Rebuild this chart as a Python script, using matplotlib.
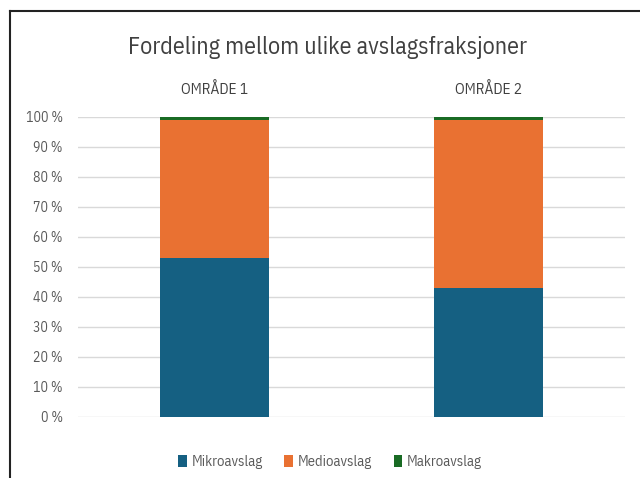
import matplotlib
matplotlib.use("Agg")
import matplotlib.pyplot as plt
from matplotlib.patches import Patch
from matplotlib.lines import Line2D
from matplotlib.ticker import FuncFormatter, MultipleLocator

plt.rcParams['font.family'] = ['IBM Plex Sans Condensed', 'Liberation Sans', 'DejaVu Sans']

categories = ["OMRÅDE 1", "OMRÅDE 2"]
series_names = ["Mikroavslag", "Medioavslag", "Makroavslag"]
mikro = [53, 43]
medio = [46, 56]
makro = [1, 1]
colors = ["#156082", "#E97132", "#196B24"]

fig = plt.figure(figsize=(6.4, 4.78), dpi=100)
ax = fig.add_axes([78/640, 1-417/478, (625-78)/640, 300/478])

x = list(range(len(categories)))
bottoms = [0]*len(categories)
for vals, col, name in zip([mikro, medio, makro], colors, series_names):
    ax.bar(x, vals, width=0.4, bottom=bottoms, color=col, label=name, zorder=3)
    bottoms = [b+v for b, v in zip(bottoms, vals)]

ax.set_xlim(-0.5, 1.5)
ax.set_ylim(0, 100)
ax.yaxis.set_major_locator(MultipleLocator(10))
ax.yaxis.set_major_formatter(FuncFormatter(lambda v, p: f"{int(v)} %"))
ax.grid(axis='y', color='#d9d9d9', linewidth=1.0, zorder=0)
for s in ax.spines.values():
    s.set_visible(False)
ax.tick_params(axis='y', length=0, pad=11, labelsize=10, labelcolor='#595959')
ax.tick_params(axis='x', length=0)
ax.set_xticks([])
ax.set_axisbelow(True)

for xi, cat in zip(x, categories):
    ax.text(xi, 109.3, cat, ha='center', va='center', fontsize=11, color='#404040')

fig.text(328/640, 1-47/478, "Fordeling mellom ulike avslagsfraksjoner", ha='center', va='center',
         fontsize=17.3, color='#404040')

handles = [Patch(facecolor=c, edgecolor='none', label=n) for c, n in zip(colors, series_names)]
fig.legend(handles=handles, loc='center', bbox_to_anchor=(330/640, 1-462/478), ncol=3,
           frameon=False, fontsize=10.5, labelcolor='#595959', handlelength=0.6, handleheight=0.9,
           handletextpad=0.3, columnspacing=1.5)

# frame border (left and top)
fig.add_artist(Line2D([9.5/640, 9.5/640], [0, 1-10.5/478], color='#222222', linewidth=1.5, transform=fig.transFigure))
fig.add_artist(Line2D([9.5/640, 1], [1-10.5/478, 1-10.5/478], color='#222222', linewidth=1.5, transform=fig.transFigure))

fig.savefig("out.png", dpi=100)
